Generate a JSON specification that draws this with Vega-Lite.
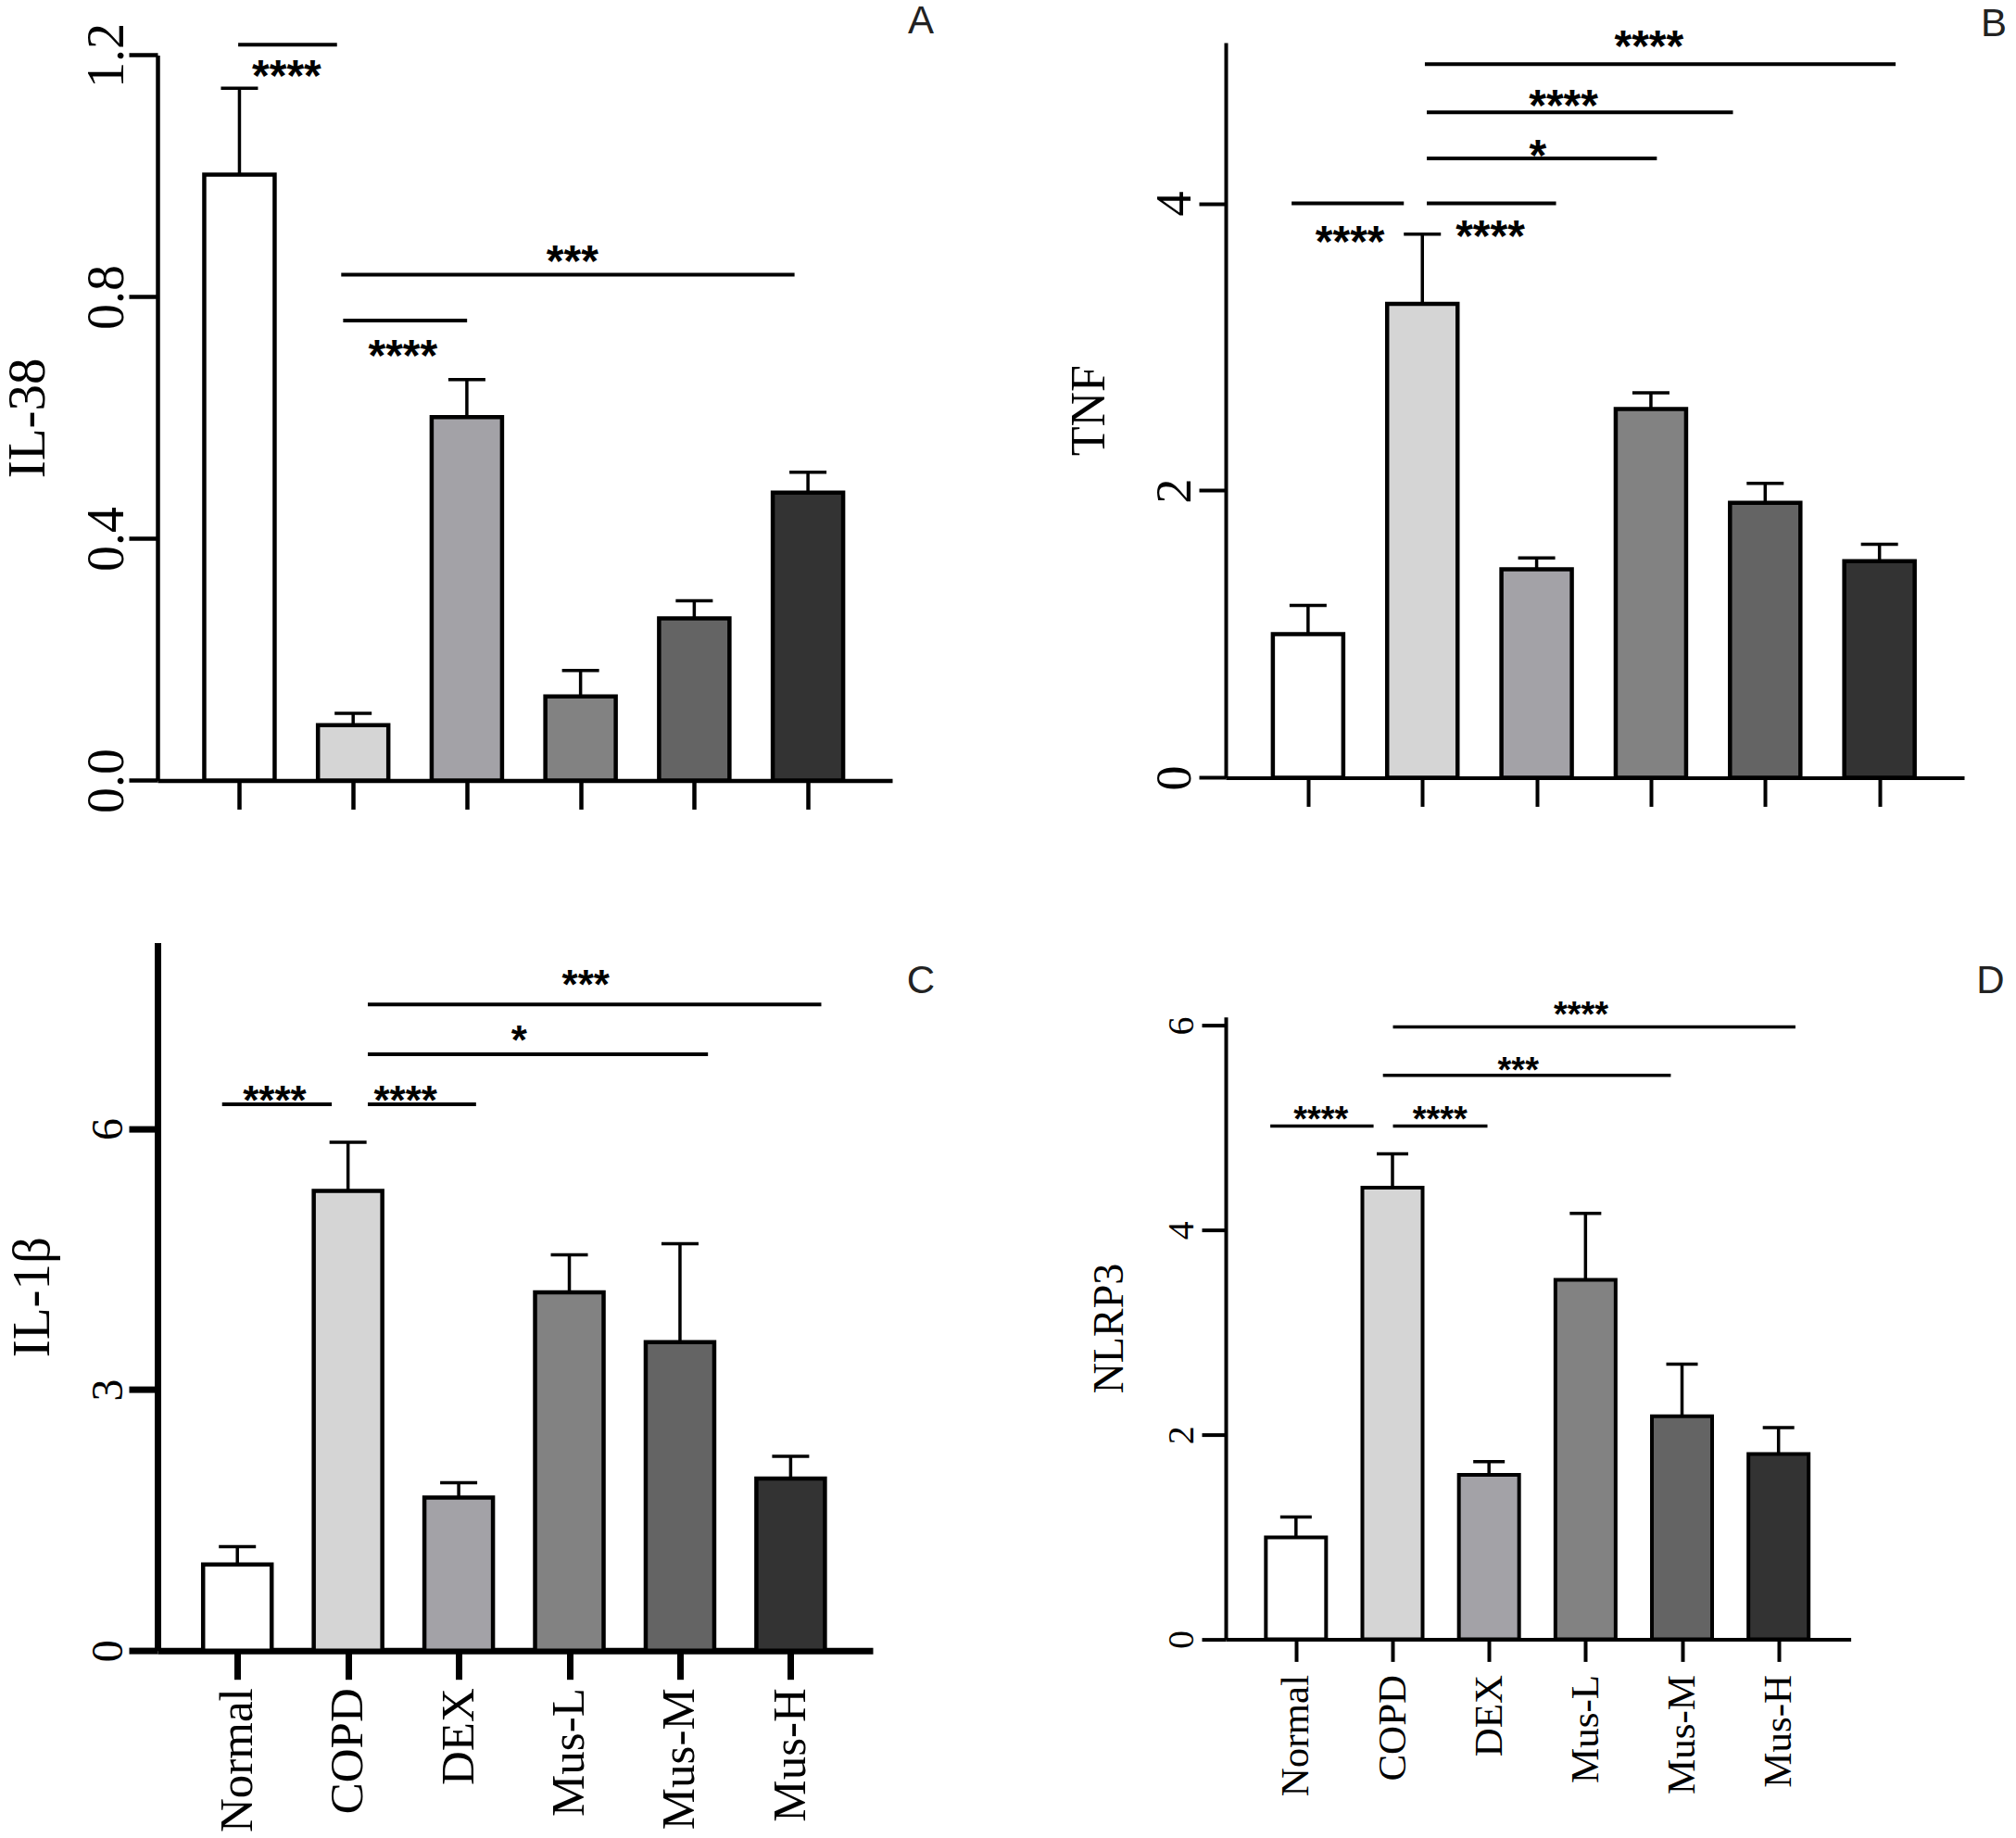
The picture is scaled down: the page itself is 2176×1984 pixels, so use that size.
{
  "$schema": "https://vega.github.io/schema/vega-lite/v6.json",
  "padding": {"left": 1, "top": 2, "right": 0, "bottom": 0},
  "bounds": "flush",
  "align": "each",
  "columns": 2,
  "spacing": {"row": 174.6, "column": 360},
  "config": {
    "view": {"stroke": null},
    "axis": {
      "grid": false,
      "domainColor": "black",
      "tickColor": "black",
      "labelColor": "black",
      "titleColor": "black",
      "labelFont": "Liberation Serif",
      "titleFont": "Liberation Serif",
      "titleFontWeight": "normal",
      "labelOverlap": false,
      "labelFlush": false
    },
    "title": {"font": "Liberation Sans", "fontWeight": "normal", "color": "#222222", "fontSize": 42, "anchor": "end", "frame": "group", "baseline": "alphabetic", "offset": 0}
  },
  "datasets": {
    "barsA": [
      {"g": 1, "name": "Normal", "v": 1.002, "err": 1.145},
      {"g": 2, "name": "COPD", "v": 0.0915, "err": 0.111},
      {"g": 3, "name": "DEX", "v": 0.601, "err": 0.663},
      {"g": 4, "name": "Mus-L", "v": 0.139, "err": 0.182},
      {"g": 5, "name": "Mus-M", "v": 0.268, "err": 0.297},
      {"g": 6, "name": "Mus-H", "v": 0.476, "err": 0.51}
    ],
    "barsB": [
      {"g": 1, "name": "Normal", "v": 1.0, "err": 1.2},
      {"g": 2, "name": "COPD", "v": 3.3, "err": 3.785},
      {"g": 3, "name": "DEX", "v": 1.452, "err": 1.53},
      {"g": 4, "name": "Mus-L", "v": 2.567, "err": 2.68},
      {"g": 5, "name": "Mus-M", "v": 1.915, "err": 2.05},
      {"g": 6, "name": "Mus-H", "v": 1.508, "err": 1.625}
    ],
    "barsC": [
      {"g": 1, "name": "Normal", "v": 0.99, "err": 1.195},
      {"g": 2, "name": "COPD", "v": 5.286, "err": 5.845},
      {"g": 3, "name": "DEX", "v": 1.761, "err": 1.93},
      {"g": 4, "name": "Mus-L", "v": 4.12, "err": 4.55},
      {"g": 5, "name": "Mus-M", "v": 3.547, "err": 4.68},
      {"g": 6, "name": "Mus-H", "v": 1.978, "err": 2.233}
    ],
    "barsD": [
      {"g": 1, "name": "Normal", "v": 0.996, "err": 1.196},
      {"g": 2, "name": "COPD", "v": 4.415, "err": 4.745},
      {"g": 3, "name": "DEX", "v": 1.607, "err": 1.737},
      {"g": 4, "name": "Mus-L", "v": 3.514, "err": 4.164},
      {"g": 5, "name": "Mus-M", "v": 2.18, "err": 2.69},
      {"g": 6, "name": "Mus-H", "v": 1.81, "err": 2.07}
    ],
    "sigA": [
      {"x1": 0.989, "x2": 1.858, "y": 1.217},
      {"x1": 1.912, "x2": 3.002, "y": 0.7606},
      {"x1": 1.895, "x2": 5.882, "y": 0.8365}
    ],
    "starA": [
      {"x": 1.415, "y": 1.1816, "t": "****"},
      {"x": 2.437, "y": 0.7197, "t": "****"},
      {"x": 3.928, "y": 0.875, "t": "***"}
    ],
    "sigB": [
      {"x1": 0.856, "x2": 1.838, "y": 4.0},
      {"x1": 2.039, "x2": 3.17, "y": 4.0},
      {"x1": 2.039, "x2": 4.052, "y": 4.314},
      {"x1": 2.039, "x2": 4.718, "y": 4.634},
      {"x1": 2.022, "x2": 6.141, "y": 4.97}
    ],
    "starB": [
      {"x": 1.367, "y": 3.806, "t": "****"},
      {"x": 2.594, "y": 3.845, "t": "****"},
      {"x": 3.011, "y": 4.405, "t": "*"},
      {"x": 3.235, "y": 4.755, "t": "****"},
      {"x": 3.983, "y": 5.168, "t": "****"}
    ],
    "sigC": [
      {"x1": 0.862, "x2": 1.853, "y": 6.283},
      {"x1": 2.179, "x2": 3.157, "y": 6.283},
      {"x1": 2.179, "x2": 5.253, "y": 6.857},
      {"x1": 2.179, "x2": 6.277, "y": 7.43}
    ],
    "starC": [
      {"x": 1.337, "y": 6.436, "t": "****"},
      {"x": 2.519, "y": 6.432, "t": "****"},
      {"x": 3.546, "y": 7.127, "t": "*"},
      {"x": 4.148, "y": 7.761, "t": "***"}
    ],
    "sigD": [
      {"x1": 0.734, "x2": 1.804, "y": 5.018},
      {"x1": 2.005, "x2": 2.984, "y": 5.018},
      {"x1": 1.901, "x2": 4.884, "y": 5.514},
      {"x1": 2.005, "x2": 6.175, "y": 5.987}
    ],
    "starD": [
      {"x": 1.259, "y": 5.167, "t": "****"},
      {"x": 2.492, "y": 5.167, "t": "****"},
      {"x": 3.303, "y": 5.651, "t": "***"},
      {"x": 3.954, "y": 6.192, "t": "****"}
    ]
  },
  "concat": [
    {
      "width": 793,
      "height": 796.4,
      "title": {"text": "A", "dx": 45, "dy": 24.8},
      "layer": [
        {
          "data": {"name": "barsA"},
          "mark": {"type": "bar", "width": 76, "stroke": "black", "strokeWidth": 4.5},
          "encoding": {
            "x": {"field": "g", "type": "quantitative", "title": null,
              "scale": {"domain": [0.32, 6.7], "nice": false, "zero": false},
              "axis": {"values": [1, 2, 3, 4, 5, 6], "labels": false, "tickSize": 31, "tickWidth": 4.5, "domainWidth": 4.5}},
            "y": {"field": "v", "type": "quantitative", "title": "IL-38",
              "scale": {"domain": [0, 1.2], "nice": false, "range": [796.4, 13.4]},
              "axis": {"values": [0, 0.4, 0.8, 1.2], "format": ".1f", "labelAngle": 270, "labelAlign": "center", "labelBaseline": "alphabetic",
                "labelFontSize": 56, "labelPadding": 7, "tickSize": 31, "tickWidth": 4.5, "domainWidth": 4.5,
                "titleFontSize": 57, "titleBaseline": "alphabetic", "titlePadding": 40}},
            "color": {"field": "name", "type": "nominal", "legend": null,
              "scale": {"domain": ["Normal", "COPD", "DEX", "Mus-L", "Mus-M", "Mus-H"], "range": ["#ffffff", "#d5d5d5", "#a3a2a7", "#828282", "#646464", "#333333"]}}
          }
        },
        {
          "data": {"name": "barsA"},
          "mark": {"type": "rule", "color": "black", "strokeWidth": 3.5},
          "encoding": {
            "x": {"field": "g", "type": "quantitative", "title": null},
            "y": {"field": "v", "type": "quantitative", "title": "IL-38"},
            "y2": {"field": "err"}
          }
        },
        {
          "data": {"name": "barsA"},
          "mark": {"type": "tick", "orient": "horizontal", "color": "black", "size": 40, "thickness": 3.5, "opacity": 1},
          "encoding": {
            "x": {"field": "g", "type": "quantitative", "title": null},
            "y": {"field": "err", "type": "quantitative", "title": "IL-38"}
          }
        },
        {
          "data": {"name": "sigA"},
          "mark": {"type": "rule", "color": "black", "strokeWidth": 4},
          "encoding": {
            "x": {"field": "x1", "type": "quantitative", "title": null},
            "x2": {"field": "x2"},
            "y": {"field": "y", "type": "quantitative", "title": "IL-38"}
          }
        },
        {
          "data": {"name": "starA"},
          "mark": {"type": "text", "font": "Liberation Sans", "fontWeight": "bold", "fontSize": 48, "color": "black", "align": "center", "baseline": "middle", "dy": 13},
          "encoding": {
            "x": {"field": "x", "type": "quantitative", "title": null},
            "y": {"field": "y", "type": "quantitative", "title": "IL-38"},
            "text": {"field": "t"}
          }
        }
      ]
    },
    {
      "width": 797,
      "height": 793.4,
      "title": {"text": "B", "dx": 46, "dy": 24.8},
      "layer": [
        {
          "data": {"name": "barsB"},
          "mark": {"type": "bar", "width": 76, "stroke": "black", "strokeWidth": 4.5},
          "encoding": {
            "x": {"field": "g", "type": "quantitative", "title": null,
              "scale": {"domain": [0.32, 6.7], "nice": false, "zero": false},
              "axis": {"values": [1, 2, 3, 4, 5, 6], "labels": false, "tickSize": 31, "tickWidth": 4, "domainWidth": 4}},
            "y": {"field": "v", "type": "quantitative", "title": "TNF",
              "scale": {"domain": [0, 5.12], "nice": false},
              "axis": {"values": [0, 2, 4], "format": "d", "labelAngle": 270, "labelAlign": "center", "labelBaseline": "alphabetic",
                "labelFontSize": 54, "labelPadding": 10, "tickSize": 29, "tickWidth": 4, "domainWidth": 4,
                "titleFontSize": 52, "titleBaseline": "alphabetic", "titlePadding": 50}},
            "color": {"field": "name", "type": "nominal", "legend": null,
              "scale": {"domain": ["Normal", "COPD", "DEX", "Mus-L", "Mus-M", "Mus-H"], "range": ["#ffffff", "#d5d5d5", "#a3a2a7", "#828282", "#646464", "#333333"]}}
          }
        },
        {
          "data": {"name": "barsB"},
          "mark": {"type": "rule", "color": "black", "strokeWidth": 3.5},
          "encoding": {
            "x": {"field": "g", "type": "quantitative", "title": null},
            "y": {"field": "v", "type": "quantitative", "title": "TNF"},
            "y2": {"field": "err"}
          }
        },
        {
          "data": {"name": "barsB"},
          "mark": {"type": "tick", "orient": "horizontal", "color": "black", "size": 40, "thickness": 3.5, "opacity": 1},
          "encoding": {
            "x": {"field": "g", "type": "quantitative", "title": null},
            "y": {"field": "err", "type": "quantitative", "title": "TNF"}
          }
        },
        {
          "data": {"name": "sigB"},
          "mark": {"type": "rule", "color": "black", "strokeWidth": 4},
          "encoding": {
            "x": {"field": "x1", "type": "quantitative", "title": null},
            "x2": {"field": "x2"},
            "y": {"field": "y", "type": "quantitative", "title": "TNF"}
          }
        },
        {
          "data": {"name": "starB"},
          "mark": {"type": "text", "font": "Liberation Sans", "fontWeight": "bold", "fontSize": 48, "color": "black", "align": "center", "baseline": "middle", "dy": 13},
          "encoding": {
            "x": {"field": "x", "type": "quantitative", "title": null},
            "y": {"field": "y", "type": "quantitative", "title": "TNF"},
            "text": {"field": "t"}
          }
        }
      ]
    },
    {
      "width": 772,
      "height": 764.1,
      "title": {"text": "C", "dx": 67, "dy": 67.5},
      "layer": [
        {
          "data": {"name": "barsC"},
          "mark": {"type": "bar", "width": 74, "stroke": "black", "strokeWidth": 4.5},
          "encoding": {
            "x": {"field": "g", "type": "quantitative", "title": null,
              "scale": {"domain": [0.32, 6.7], "nice": false, "zero": false},
              "axis": {"values": [1, 2, 3, 4, 5, 6], "labelExpr": "['', 'Normal', 'COPD', 'DEX', 'Mus-L', 'Mus-M', 'Mus-H'][datum.value]",
                "labelAngle": 270, "labelAlign": "right", "labelBaseline": "middle", "labelFontSize": 51, "labelPadding": 9,
                "tickSize": 31, "tickWidth": 7, "domainWidth": 7}},
            "y": {"field": "v", "type": "quantitative", "title": "IL-1β",
              "scale": {"domain": [0, 8.14], "nice": false},
              "axis": {"values": [0, 3, 6], "format": "d", "labelAngle": 270, "labelAlign": "center", "labelBaseline": "alphabetic",
                "labelFontSize": 48, "labelPadding": 8, "tickSize": 31, "tickWidth": 7, "domainWidth": 7,
                "titleFontSize": 57, "titleBaseline": "alphabetic", "titlePadding": 41}},
            "color": {"field": "name", "type": "nominal", "legend": null,
              "scale": {"domain": ["Normal", "COPD", "DEX", "Mus-L", "Mus-M", "Mus-H"], "range": ["#ffffff", "#d5d5d5", "#a3a2a7", "#828282", "#646464", "#333333"]}}
          }
        },
        {
          "data": {"name": "barsC"},
          "mark": {"type": "rule", "color": "black", "strokeWidth": 3.5},
          "encoding": {
            "x": {"field": "g", "type": "quantitative", "title": null},
            "y": {"field": "v", "type": "quantitative", "title": "IL-1β"},
            "y2": {"field": "err"}
          }
        },
        {
          "data": {"name": "barsC"},
          "mark": {"type": "tick", "orient": "horizontal", "color": "black", "size": 40, "thickness": 3.5, "opacity": 1},
          "encoding": {
            "x": {"field": "g", "type": "quantitative", "title": null},
            "y": {"field": "err", "type": "quantitative", "title": "IL-1β"}
          }
        },
        {
          "data": {"name": "sigC"},
          "mark": {"type": "rule", "color": "black", "strokeWidth": 4},
          "encoding": {
            "x": {"field": "x1", "type": "quantitative", "title": null},
            "x2": {"field": "x2"},
            "y": {"field": "y", "type": "quantitative", "title": "IL-1β"}
          }
        },
        {
          "data": {"name": "starC"},
          "mark": {"type": "text", "font": "Liberation Sans", "fontWeight": "bold", "fontSize": 44, "color": "black", "align": "center", "baseline": "middle", "dy": 12},
          "encoding": {
            "x": {"field": "x", "type": "quantitative", "title": null},
            "y": {"field": "y", "type": "quantitative", "title": "IL-1β"},
            "text": {"field": "t"}
          }
        }
      ]
    },
    {
      "width": 674.6,
      "height": 751.8,
      "title": {"text": "D", "dx": 166, "dy": 67.5},
      "layer": [
        {
          "data": {"name": "barsD"},
          "mark": {"type": "bar", "width": 65, "stroke": "black", "strokeWidth": 4},
          "encoding": {
            "x": {"field": "g", "type": "quantitative", "title": null,
              "scale": {"domain": [0.32, 6.7], "nice": false, "zero": false},
              "axis": {"values": [1, 2, 3, 4, 5, 6], "labelExpr": "['', 'Normal', 'COPD', 'DEX', 'Mus-L', 'Mus-M', 'Mus-H'][datum.value]",
                "labelAngle": 270, "labelAlign": "right", "labelBaseline": "middle", "labelFontSize": 43, "labelPadding": 14,
                "tickSize": 24, "tickWidth": 4, "domainWidth": 4}},
            "y": {"field": "v", "type": "quantitative", "title": "NLRP3",
              "scale": {"domain": [0, 6.085], "nice": false, "range": [751.8, 80.1]},
              "axis": {"values": [0, 2, 4, 6], "format": "d", "labelAngle": 270, "labelAlign": "center", "labelBaseline": "alphabetic",
                "labelFontSize": 40, "labelPadding": 10, "tickSize": 26, "tickWidth": 4, "domainWidth": 4,
                "titleFontSize": 46, "titleBaseline": "alphabetic", "titlePadding": 44}},
            "color": {"field": "name", "type": "nominal", "legend": null,
              "scale": {"domain": ["Normal", "COPD", "DEX", "Mus-L", "Mus-M", "Mus-H"], "range": ["#ffffff", "#d5d5d5", "#a3a2a7", "#828282", "#646464", "#333333"]}}
          }
        },
        {
          "data": {"name": "barsD"},
          "mark": {"type": "rule", "color": "black", "strokeWidth": 3.5},
          "encoding": {
            "x": {"field": "g", "type": "quantitative", "title": null},
            "y": {"field": "v", "type": "quantitative", "title": "NLRP3"},
            "y2": {"field": "err"}
          }
        },
        {
          "data": {"name": "barsD"},
          "mark": {"type": "tick", "orient": "horizontal", "color": "black", "size": 34, "thickness": 3.5, "opacity": 1},
          "encoding": {
            "x": {"field": "g", "type": "quantitative", "title": null},
            "y": {"field": "err", "type": "quantitative", "title": "NLRP3"}
          }
        },
        {
          "data": {"name": "sigD"},
          "mark": {"type": "rule", "color": "black", "strokeWidth": 3.5},
          "encoding": {
            "x": {"field": "x1", "type": "quantitative", "title": null},
            "x2": {"field": "x2"},
            "y": {"field": "y", "type": "quantitative", "title": "NLRP3"}
          }
        },
        {
          "data": {"name": "starD"},
          "mark": {"type": "text", "font": "Liberation Sans", "fontWeight": "bold", "fontSize": 38, "color": "black", "align": "center", "baseline": "middle", "dy": 11},
          "encoding": {
            "x": {"field": "x", "type": "quantitative", "title": null},
            "y": {"field": "y", "type": "quantitative", "title": "NLRP3"},
            "text": {"field": "t"}
          }
        }
      ]
    }
  ]
}
